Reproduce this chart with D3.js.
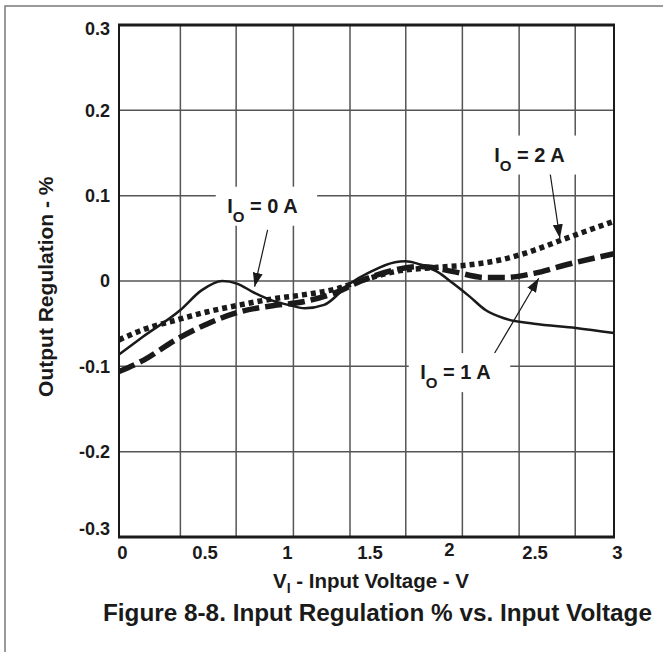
<!DOCTYPE html>
<html>
<head>
<meta charset="utf-8">
<script src="https://cdn.jsdelivr.net/npm/d3@7/dist/d3.min.js"></script>
<style>
  html, body { margin: 0; padding: 0; background: #fff; }
  svg { display: block; font-family: "Liberation Sans", Arial, sans-serif; font-weight: bold; }
</style>
</head>
<body>
<svg id="chart" width="663" height="652"></svg>
<script>
// ---- data ----
const voltage0 = [0, 0.147, 0.372, 0.5, 0.626, 0.715, 0.812, 0.93, 1.047, 1.125, 1.243, 1.4, 1.517, 1.673, 1.733, 1.83, 1.928, 2.026, 2.124, 2.221, 2.339, 2.515, 2.769, 3.0];
const reg0     = [-0.086, -0.065, -0.034, -0.011, 0.0, -0.003, -0.013, -0.023, -0.029, -0.032, -0.028, -0.003, 0.010, 0.022, 0.023, 0.019, 0.011, -0.003, -0.018, -0.034, -0.044, -0.050, -0.055, -0.061];

const voltage1 = [0, 0.147, 0.343, 0.538, 0.734, 0.93, 1.125, 1.321, 1.478, 1.65, 1.83, 2.026, 2.221, 2.339, 2.515, 2.71, 3.0];
const reg1     = [-0.106, -0.093, -0.069, -0.050, -0.036, -0.029, -0.024, -0.013, 0.001, 0.012, 0.017, 0.011, 0.004, 0.004, 0.009, 0.019, 0.032];

const voltage2 = [0, 0.147, 0.343, 0.538, 0.734, 0.93, 1.125, 1.321, 1.478, 1.673, 1.928, 2.124, 2.319, 2.515, 2.71, 3.0];
const reg2     = [-0.069, -0.057, -0.046, -0.036, -0.028, -0.021, -0.016, -0.009, 0.001, 0.011, 0.016, 0.019, 0.025, 0.036, 0.050, 0.070];

const xTicks = [0, 0.5, 1, 1.5, 2, 2.5, 3];
const xTickLabels = ["0", "0.5", "1", "1.5", "2", "2.5", "3"];
const yTicks = [-0.3, -0.2, -0.1, 0, 0.1, 0.2, 0.3];
const yTickLabels = ["-0.3", "-0.2", "-0.1", "0", "0.1", "0.2", "0.3"];
const xGrid = [0.372, 0.710, 1.057, 1.400, 1.738, 2.081, 2.425, 2.765];
const yGrid = [-0.2, -0.1, 0, 0.1, 0.2];

const seriesNames = ["0 A", "1 A", "2 A"];
// annotation: label start (V, %), arrow start, arrow tip
const annLabelV   = [0.656, 1.826, 2.274];
const annLabelR   = [0.080, -0.115, 0.140];
const annFromV    = [0.9006, 2.276, 2.613];
const annFromR    = [0.0598, -0.0847, 0.126];
const annTipV     = [0.822, 2.544, 2.672];
const annTipR     = [-0.0067, 0.0032, 0.050];

const xLabel = "V";
const xLabelSub = "I";
const xLabelRest = " - Input Voltage - V";
const yLabel = "Output Regulation - %";
const title = "Figure 8-8. Input Regulation % vs. Input Voltage";

// ---- drawing ----
const svg = d3.select("#chart");
const ink = "#1a1a1a";
const gridCol = "#555";

const x = d3.scaleLinear().domain([0, 3]).range([119, 614]);
const y = d3.scaleLinear().domain([-0.3, 0.3]).range([537, 25]);

// outer frame
svg.append("rect").attr("x", 5).attr("y", 6).attr("width", 700).attr("height", 700)
  .attr("fill", "none").attr("stroke", "#7a7a7a").attr("stroke-width", 1.5);

// grid
const g = svg.append("g");
g.selectAll(".vg").data(xGrid).join("line")
  .attr("x1", d => x(d)).attr("x2", d => x(d)).attr("y1", y(0.3)).attr("y2", y(-0.3))
  .attr("stroke", gridCol).attr("stroke-width", 1.5);
g.selectAll(".hg").data(yGrid).join("line")
  .attr("x1", x(0)).attr("x2", x(3)).attr("y1", d => y(d)).attr("y2", d => y(d))
  .attr("stroke", gridCol).attr("stroke-width", 1.5);

// plot border
svg.append("line").attr("x1", x(0)).attr("x2", x(0)).attr("y1", y(0.3)).attr("y2", y(-0.3)).attr("stroke", ink).attr("stroke-width", 2);
svg.append("line").attr("x1", x(3)).attr("x2", x(3)).attr("y1", y(0.3)).attr("y2", y(-0.3)).attr("stroke", ink).attr("stroke-width", 2);
svg.append("line").attr("x1", x(0) - 1).attr("x2", x(3) + 1).attr("y1", y(0.3)).attr("y2", y(0.3)).attr("stroke", ink).attr("stroke-width", 3);
svg.append("line").attr("x1", x(0) - 1).attr("x2", x(3) + 1).attr("y1", y(-0.3)).attr("y2", y(-0.3)).attr("stroke", ink).attr("stroke-width", 3);

// axes (labels only)
const xAxis = d3.axisBottom(x).tickValues(xTicks).tickSize(0).tickPadding(9)
  .tickFormat((d, i) => xTickLabels[i]);
const xg = svg.append("g").attr("transform", `translate(0,${y(-0.3)})`).call(xAxis);
xg.select(".domain").remove();
xg.selectAll("text").attr("font-size", 18.5).attr("font-weight", "bold").attr("fill", ink)
  .attr("font-family", "Liberation Sans, Arial, sans-serif")
  .attr("dx", (d) => d === 2 ? 0 : 3)
  .attr("transform", (d) => d === 2 ? "translate(0,-3)" : null);

const yAxis = d3.axisLeft(y).tickValues(yTicks).tickSize(0).tickPadding(9)
  .tickFormat((d, i) => yTickLabels[i]);
const yg = svg.append("g").attr("transform", `translate(${x(0)},0)`).call(yAxis);
yg.select(".domain").remove();
yg.selectAll("text").attr("font-size", 18).attr("font-weight", "bold").attr("fill", ink)
  .attr("font-family", "Liberation Sans, Arial, sans-serif")
  .attr("transform", d => d === 0.3 ? "translate(0,4)" : (d === -0.3 ? "translate(0,-8)" : null));

// annotation labels with white boxes that hide the grid
const annG = svg.append("g");
const labels = seriesNames.map((name, i) => {
  const t = annG.append("text")
    .attr("x", x(annLabelV[i])).attr("y", y(annLabelR[i]))
    .attr("font-size", 20).attr("fill", ink);
  t.append("tspan").text("I");
  t.append("tspan").attr("font-size", 15).attr("dy", 9).text("O");
  t.append("tspan").attr("dy", -9).text(" = " + name);
  return t;
});
labels.forEach(t => {
  const b = t.node().getBBox();
  annG.insert("rect", "text")
    .attr("x", b.x - 11.5).attr("y", b.y - 8).attr("width", b.width + 31).attr("height", b.height + 9)
    .attr("fill", "#fff");
});

// curves
const line = d3.line().x(d => x(d[0])).y(d => y(d[1])).curve(d3.curveMonotoneX);
const curves = [
  { v: voltage0, r: reg0, w: 2.5, dash: null },
  { v: voltage1, r: reg1, w: 5.5, dash: "17,6" },
  { v: voltage2, r: reg2, w: 5.5, dash: "5,4" }
];
svg.append("g").selectAll("path").data(curves).join("path")
  .attr("d", c => line(c.v.map((v, i) => [v, c.r[i]])))
  .attr("fill", "none").attr("stroke", ink)
  .attr("stroke-width", c => c.w)
  .attr("stroke-dasharray", c => c.dash);

// arrows
const defs = svg.append("defs");
defs.append("marker").attr("id", "arr").attr("viewBox", "0 0 14 10")
  .attr("refX", 14).attr("refY", 5).attr("markerWidth", 14).attr("markerHeight", 10)
  .attr("markerUnits", "userSpaceOnUse").attr("orient", "auto")
  .append("path").attr("d", "M0,0 L14,5 L0,10 Z").attr("fill", ink);
svg.append("g").selectAll("line").data(seriesNames).join("line")
  .attr("x1", (d, i) => x(annFromV[i])).attr("y1", (d, i) => y(annFromR[i]))
  .attr("x2", (d, i) => x(annTipV[i])).attr("y2", (d, i) => y(annTipR[i]))
  .attr("stroke", ink).attr("stroke-width", 1.2).attr("marker-end", "url(#arr)");

annG.raise();

// axis titles
const xt = svg.append("text").attr("x", 371).attr("y", 588).attr("text-anchor", "middle")
  .attr("font-size", 20.5).attr("fill", ink);
xt.append("tspan").text(xLabel);
xt.append("tspan").attr("font-size", 14).attr("dy", 5).text(xLabelSub);
xt.append("tspan").attr("dy", -5).text(xLabelRest);

svg.append("text").attr("transform", "translate(53,286.7) rotate(-90)")
  .attr("text-anchor", "middle").attr("font-size", 21).attr("fill", ink).text(yLabel);

svg.append("text").attr("x", 377.5).attr("y", 621).attr("text-anchor", "middle")
  .attr("font-size", 24.3).attr("fill", ink).text(title);
</script>
</body>
</html>
